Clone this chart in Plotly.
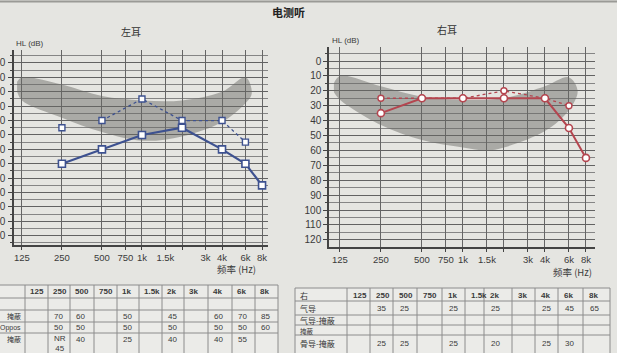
import math
import plotly.graph_objects as go

W, H = 617, 353

# ---------------- data ----------------
freqs = [125, 250, 500, 750, 1000, 1500, 2000, 3000, 4000, 6000, 8000]
freq_labels = ["125", "250", "500", "750", "1k", "1.5k", "", "3k", "4k", "6k", "8k"]
table_headers = ["125", "250", "500", "750", "1k", "1.5k", "2k", "3k", "4k", "6k", "8k"]

left_air_f = [250, 500, 1000, 2000, 4000, 6000, 8000]
left_air_db = [70, 60, 50, 45, 60, 70, 85]
left_bone_f = [250, 500, 1000, 2000, 4000, 6000]
left_bone_db = [45, 40, 25, 40, 40, 55]
left_bone_nr = [True, False, False, False, False, False]
left_mask_f = [250, 500, 1000, 2000, 4000, 6000, 8000]
left_mask_db = [50, 50, 50, 50, 50, 50, 60]

right_air_f = [250, 500, 1000, 2000, 4000, 6000, 8000]
right_air_db = [35, 25, 25, 25, 25, 45, 65]
right_bone_f = [250, 500, 1000, 2000, 4000, 6000]
right_bone_db = [25, 25, 25, 20, 25, 30]

# grey reference band (upper edge, tip, lower edge)
band_l_top_f = [115, 125, 250, 500, 1000, 2000, 4000, 6000]
band_l_top_db = [13, 10, 15, 23, 26, 26, 20, 10]
band_l_tip_f = [6700]
band_l_tip_db = [21]
band_l_bot_f = [6000, 4000, 2000, 1000, 500, 250, 125, 115]
band_l_bot_db = [28, 41, 51, 54, 48, 38, 26, 20]

band_r_top_f = [113, 125, 250, 500, 1000, 2000, 4000, 6000]
band_r_top_db = [15, 10, 17, 24, 26, 25, 17, 11]
band_r_tip_f = [6950]
band_r_tip_db = [20]
band_r_bot_f = [6000, 4000, 2000, 1500, 1000, 500, 250, 125, 113]
band_r_bot_db = [33, 47, 58, 60, 58, 53, 43, 26, 21]

# ---------------- styling ----------------
BG = "#e5e5e1"
BLUE = "#3d5190"
RED = "#b4454f"
BAND = "rgba(105,105,100,0.47)"
TXT = "#3a3a3a"
CJK = "Noto Sans CJK SC"
LAT = "Liberation Sans"


def px(x):
    return x / W


def py(y):
    return 1 - y / H


fig = go.Figure()

# bands
fig.add_trace(go.Scatter(
    x=band_l_top_f + band_l_tip_f + band_l_bot_f,
    y=band_l_top_db + band_l_tip_db + band_l_bot_db,
    mode="lines", fill="toself", fillcolor=BAND,
    line=dict(width=0, shape="spline", smoothing=1.0),
    xaxis="x", yaxis="y", hoverinfo="skip", showlegend=False))
fig.add_trace(go.Scatter(
    x=band_r_top_f + band_r_tip_f + band_r_bot_f,
    y=band_r_top_db + band_r_tip_db + band_r_bot_db,
    mode="lines", fill="toself", fillcolor=BAND,
    line=dict(width=0, shape="spline", smoothing=1.0),
    xaxis="x2", yaxis="y2", hoverinfo="skip", showlegend=False))

# left ear bone (dotted), NR point unconnected
lb_f = [f for f, nr in zip(left_bone_f, left_bone_nr) if not nr]
lb_d = [d for d, nr in zip(left_bone_db, left_bone_nr) if not nr]
nr_f = [f for f, nr in zip(left_bone_f, left_bone_nr) if nr]
nr_d = [d for d, nr in zip(left_bone_db, left_bone_nr) if nr]
fig.add_trace(go.Scatter(
    x=lb_f, y=lb_d, mode="lines+markers",
    line=dict(color=BLUE, width=1.3, dash="dot"),
    marker=dict(symbol="square", size=6, color="white",
                line=dict(color=BLUE, width=1.4)),
    xaxis="x", yaxis="y", showlegend=False))
fig.add_trace(go.Scatter(
    x=nr_f, y=nr_d, mode="markers",
    marker=dict(symbol="square", size=6, color="white",
                line=dict(color=BLUE, width=1.4)),
    xaxis="x", yaxis="y", showlegend=False))
# left ear air
fig.add_trace(go.Scatter(
    x=left_air_f, y=left_air_db, mode="lines+markers",
    line=dict(color=BLUE, width=2.2),
    marker=dict(symbol="square", size=7, color="white",
                line=dict(color=BLUE, width=1.6)),
    xaxis="x", yaxis="y", showlegend=False))

# right ear bone
fig.add_trace(go.Scatter(
    x=right_bone_f, y=right_bone_db, mode="lines+markers",
    line=dict(color=RED, width=1.3, dash="dot"),
    marker=dict(symbol="circle", size=6, color="white",
                line=dict(color=RED, width=1.4)),
    xaxis="x2", yaxis="y2", showlegend=False))
# right ear air
fig.add_trace(go.Scatter(
    x=right_air_f, y=right_air_db, mode="lines+markers",
    line=dict(color=RED, width=2.0),
    marker=dict(symbol="circle", size=7, color="white",
                line=dict(color=RED, width=1.6)),
    xaxis="x2", yaxis="y2", showlegend=False))


def xaxis_cfg(domain, lo, hi, anchor):
    return dict(
        domain=domain, type="log", range=[math.log10(lo), math.log10(hi)],
        tickmode="array", tickvals=freqs, ticktext=freq_labels, tickangle=0,
        showgrid=True, gridcolor="#666666", gridwidth=1,
        showline=True, linecolor="#444", linewidth=1.5,
        ticks="outside", ticklen=3, tickcolor="#444",
        tickfont=dict(family=LAT, size=9.5, color=TXT),
        zeroline=False, anchor=anchor, fixedrange=True, automargin=False)


def yaxis_cfg(domain, lo, hi, anchor):
    return dict(
        domain=domain, range=[hi, lo], tick0=0, dtick=10,
        showgrid=True, gridcolor="#626262", gridwidth=1,
        showline=True, linecolor="#444", linewidth=1.5,
        ticks="outside", ticklen=4, tickcolor="#444",
        tickfont=dict(family=LAT, size=10, color=TXT),
        minor=dict(tick0=0, dtick=5, ticks="outside", ticklen=2,
                   tickcolor="#444", showgrid=True, gridcolor="#858585",
                   gridwidth=1),
        zeroline=False, anchor=anchor, fixedrange=True, automargin=False)


layout = dict(
    width=W, height=H, margin=dict(l=0, r=0, t=0, b=0, autoexpand=False),
    paper_bgcolor=BG, plot_bgcolor=BG, showlegend=False,
    xaxis=xaxis_cfg([px(14), px(268)], 109, 8870, "y"),
    yaxis=yaxis_cfg([py(245), py(50)], -9, 126.4, "x"),
    xaxis2=xaxis_cfg([px(329), px(595)], 104, 9320, "y2"),
    yaxis2=yaxis_cfg([py(247), py(47)], -9.4, 124.8, "x2"),
)
layout["yaxis"]["ticklabelstandoff"] = 1
fig.update_layout(**layout)

annotations = []
shapes = []


def text(x, y, s, size=9, family=CJK, color=TXT, anchor="center", bold=False):
    if bold:
        s = "<b>" + s + "</b>"
    annotations.append(dict(
        x=px(x), y=py(y), xref="paper", yref="paper", text=s,
        showarrow=False, xanchor=anchor, yanchor="middle",
        font=dict(family=family, size=size, color=color)))


# titles
shapes.append(dict(type="line", xref="paper", yref="paper",
                   x0=0, x1=1, y0=py(1.5), y1=py(1.5),
                   line=dict(color="#9a9a96", width=2)))
text(288, 12, "电测听", size=11, color="#222", bold=True)
text(131, 31, "左耳", size=10, color="#333")
text(447, 29, "右耳", size=10, color="#333")
text(14, 43, "HL (dB)", size=8, family=LAT, anchor="left")
text(330, 41, "HL (dB)", size=8, family=LAT, anchor="left")
text(236, 269, "频率 (Hz)", size=9.5, anchor="center")
text(572, 272, "频率 (Hz)", size=9.5, anchor="center")

# ---------------- tables ----------------
LINE = dict(color="#8c8c8c", width=1)


def draw_table(col_x, row_y, x_left):
    for x in col_x:
        shapes.append(dict(type="line", xref="paper", yref="paper",
                           x0=px(x), x1=px(x), y0=py(row_y[0]), y1=py(row_y[-1]),
                           line=LINE))
    for y in row_y[:-1]:
        shapes.append(dict(type="line", xref="paper", yref="paper",
                           x0=px(x_left), x1=px(col_x[-1]), y0=py(y), y1=py(y),
                           line=LINE))


def row_cells(fs, vals):
    m = {f: v for f, v in zip(fs, vals)}
    return ["" if f not in m else str(m[f]) for f in freqs]


# left table
l_cols = [25, 48, 70, 94, 117, 139, 162, 184, 208, 232, 255, 278]
l_rows = [285, 298, 310, 322, 333, 356]
shapes.append(dict(type="rect", xref="paper", yref="paper", layer="below",
                   x0=0, x1=px(278), y0=py(356), y1=py(285),
                   fillcolor="#ebebe8", line=dict(width=0)))
draw_table(l_cols, l_rows, 0)
for i, h in enumerate(table_headers):
    text(l_cols[i] + 3, 291, h, size=8, family=LAT, anchor="left", bold=True)
left_rows_text = [
    ("掩蔽", row_cells(left_air_f, left_air_db), 316),
    ("Oppos", row_cells(left_mask_f, left_mask_db), 327.5),
]
for label, cells, y in left_rows_text:
    text(23, y, label, size=7, family=CJK if label != "Oppos" else LAT,
         anchor="right")
    for i, c in enumerate(cells):
        if c:
            text(l_cols[i] + 4, y, c, size=8, family=LAT, anchor="left")
text(23, 339, "掩蔽", size=7, anchor="right")
bone_cells = {f: ("NR<br>" + str(d) if nr else str(d))
              for f, d, nr in zip(left_bone_f, left_bone_db, left_bone_nr)}
for i, f in enumerate(freqs):
    if f in bone_cells:
        c = bone_cells[f]
        yy = 343 if "NR" in c else 339
        text(l_cols[i] + 4, yy, c, size=8, family=LAT, anchor="left")

# right table
r_cols = [295, 347, 370, 393, 417, 442, 465, 484, 512, 535, 558, 583, 610]
r_rows = [288, 301, 315, 325, 335, 356]
shapes.append(dict(type="rect", xref="paper", yref="paper", layer="below",
                   x0=px(295), x1=px(610), y0=py(356), y1=py(288),
                   fillcolor="#ebebe8", line=dict(width=0)))
draw_table(r_cols, r_rows, 295)
text(298, 295, "右", size=8, anchor="left")
for i, h in enumerate(table_headers):
    text(r_cols[i + 1] + 4, 295, h, size=8, family=LAT, anchor="left", bold=True)
text(298, 308, "气导", size=8, anchor="left")
text(298, 320, "气导-掩蔽", size=8, anchor="left")
text(298, 330.5, "掩蔽", size=6.5, anchor="left")
text(298, 343, "骨导-掩蔽", size=8, anchor="left")
for i, c in enumerate(row_cells(right_air_f, right_air_db)):
    if c:
        text(r_cols[i + 1] + 5, 308, c, size=8, family=LAT, anchor="left")
for i, c in enumerate(row_cells(right_bone_f, right_bone_db)):
    if c:
        text(r_cols[i + 1] + 5, 343, c, size=8, family=LAT, anchor="left")

fig.update_layout(annotations=annotations, shapes=shapes)
fig.write_html("out.html")
